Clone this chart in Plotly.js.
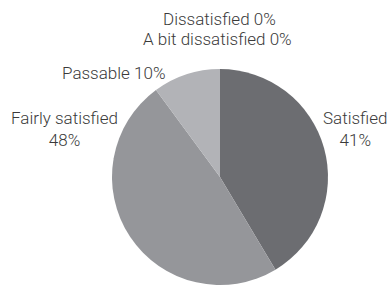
<!DOCTYPE html>
<html>
<head>
<meta charset="utf-8">
<script src="https://cdn.plot.ly/plotly-3.0.1.min.js"></script>
<style>html,body{margin:0;padding:0;background:#fff;}#chart{width:389px;height:286px;}</style>
</head>
<body>
<div id="chart"></div>
<script>
var labels = ["Satisfied", "Fairly satisfied", "Passable", "A bit dissatisfied", "Dissatisfied"];
var values = [41, 48, 10, 0, 0];
var colors = ["#6c6d71", "#95969a", "#b2b3b7", "#cfd0d3", "#e2e3e5"];

// label placement (paper coords) and line separator per category
var labelPos = [
  {x: 0.912, y: 0.548, sep: "<br>"},
  {x: 0.167, y: 0.548, sep: "<br>"},
  {x: 0.291, y: 0.745, sep: " "},
  {x: 0.560, y: 0.864, sep: " "},
  {x: 0.563, y: 0.934, sep: " "}
];

var annotations = labels.map(function (lab, i) {
  return {
    text: lab + labelPos[i].sep + values[i] + "%",
    x: labelPos[i].x, y: labelPos[i].y,
    xref: "paper", yref: "paper",
    xanchor: "center", yanchor: "middle",
    showarrow: false,
    font: {family: "Roboto, Liberation Sans, Arial, sans-serif", size: 17, weight: 300, color: "#3a3a3a"}
  };
});

var trace = {
  type: "pie",
  labels: labels,
  values: values,
  sort: false,
  direction: "clockwise",
  rotation: 0,
  textinfo: "none",
  hoverinfo: "label+percent",
  marker: {colors: colors, line: {width: 0}},
  domain: {x: [0.2879, 0.8432], y: [0.0035, 0.7587]},
  showlegend: false
};

Plotly.newPlot("chart", [trace], {
  width: 389, height: 286,
  margin: {l: 0, r: 0, t: 0, b: 0},
  paper_bgcolor: "#ffffff",
  showlegend: false,
  annotations: annotations
}, {staticPlot: true, displayModeBar: false});
</script>
</body>
</html>
